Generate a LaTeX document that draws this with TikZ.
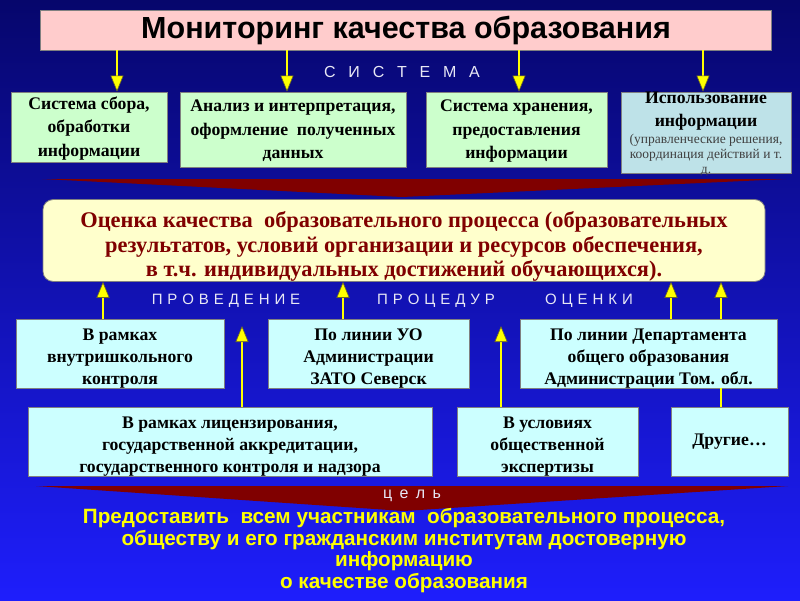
\documentclass[tikz,border=0pt]{standalone}
\usepackage{fontspec}
\setmainfont{Liberation Serif}
\setsansfont{Liberation Sans}
\usetikzlibrary{arrows.meta}
\definecolor{bgtop}{RGB}{6,6,108}
\definecolor{bgmid}{RGB}{18,18,196}
\definecolor{bgbottom}{RGB}{30,30,252}
\definecolor{wedgered}{RGB}{128,0,0}
\definecolor{titlepink}{RGB}{255,204,204}
\definecolor{boxgreen}{RGB}{204,255,204}
\definecolor{boxgrey}{RGB}{190,226,232}
\definecolor{boxcyan}{RGB}{204,255,255}
\definecolor{boxyellow}{RGB}{255,255,204}
\definecolor{labelgray}{RGB}{232,232,245}
\definecolor{arrowyellow}{RGB}{255,255,0}
\newcommand{\toppad}[1]{\rule{0pt}{#1em}}

\begin{document}
\begin{tikzpicture}[x=1pt,y=-1pt,
  box/.style={draw=gray,line width=0.8pt,inner sep=0pt,align=center,font=\bfseries\fontsize{17.7}{22}\selectfont},
  greenbox/.style={box,fill=boxgreen,font=\bfseries\fontsize{17.7}{23.5}\selectfont},
  cyanbox/.style={box,fill=boxcyan},
  spaced/.style={font=\sffamily\fontsize{15}{15}\selectfont,text=labelgray},
  yarrow/.style={draw=arrowyellow,line width=2.5pt,-{Triangle[width=13pt,length=16pt,fill=arrowyellow,color=olive!70!black,line width=0.6pt]}},
  yline/.style={draw=arrowyellow,line width=2.5pt}]

\useasboundingbox (0,0) rectangle (800,600);
\shade[top color=bgtop,middle color=bgmid,bottom color=bgbottom] (0,0) rectangle (800,600);

\fill[wedgered] (42,179) -- (786,179) -- (402,197) -- cycle;
\fill[wedgered] (36,486) -- (788,486) -- (404,511) -- cycle;

\node[draw=gray,fill=titlepink,minimum width=731,minimum height=40,inner sep=0pt,font=\sffamily\bfseries\fontsize{30.5}{32}\selectfont] (title) at (406,30) {Мониторинг качества образования};

\node[spaced,font=\sffamily\fontsize{16}{16}\selectfont] (sys) at (402,72) {\addfontfeature{LetterSpace=52}С И С Т Е М А};

\node[greenbox,minimum width=156,minimum height=70] (sys1) at (89,127) {\toppad{0.85}Система сбора,\\обработки\\информации};
\node[greenbox,minimum width=226,minimum height=75] (sys2) at (293,129.5) {\toppad{0.85}Анализ и интерпретация,\\оформление~ полученных\\данных};
\node[greenbox,minimum width=181,minimum height=75] (sys3) at (516.5,129.5) {\toppad{0.85}Система хранения,\\предоставления\\информации};
\node[box,fill=boxgrey,minimum width=170,minimum height=81] (sys4) at (706,132.5) {};
\node[align=center,inner sep=0pt,font=\bfseries\fontsize{17.7}{23}\selectfont] (use) at (706,111) {Использование\\информации};
\node[align=center,inner sep=0pt,anchor=north,text=black!75,font=\fontsize{13.5}{15}\selectfont] (usenote) at (706,133.5) {(управленческие решения,\\координация действий и т.\\д.};

\draw[yarrow] (title.south -| 117,0) -- (sys1.north -| 117,0);
\draw[yarrow] (title.south -| 287,0) -- (sys2.north -| 287,0);
\draw[yarrow] (title.south -| 519,0) -- (sys3.north -| 519,0);
\draw[yarrow] (title.south -| 703,0) -- (sys4.north -| 703,0);

\node[box,fill=boxyellow,rounded corners=10pt,minimum width=722,minimum height=81,text=wedgered,font=\bfseries\fontsize{22.4}{24.5}\selectfont] (eval) at (404,240.5) {\toppad{1.25}Оценка качества~ образовательного процесса (образовательных\\результатов, условий организации и ресурсов обеспечения,\\в т.ч. индивидуальных достижений обучающихся).};

\node[spaced] (held) at (226,301) {\addfontfeature{LetterSpace=5}П Р О В Е Д Е Н И Е};
\node[spaced] (proc) at (436,301) {\addfontfeature{LetterSpace=5}П Р О Ц Е Д У Р};
\node[spaced] (est) at (589,301) {\addfontfeature{LetterSpace=5}О Ц Е Н К И};

\node[cyanbox,minimum width=208,minimum height=69] (lev1) at (120,353.5) {\toppad{1.2}В рамках\\внутришкольного\\контроля};
\node[cyanbox,minimum width=201,minimum height=69] (lev2) at (368.5,353.5) {\toppad{1.2}По линии УО\\Администрации\\ЗАТО Северск};
\node[cyanbox,minimum width=257,minimum height=69] (lev3) at (648.5,353.5) {\toppad{1.2}По линии Департамента\\общего образования\\Администрации Том. обл.};

\node[cyanbox,minimum width=404,minimum height=69] (ext1) at (230,441.5) {\toppad{1.2}В рамках лицензирования,\\государственной аккредитации,\\государственного контроля и надзора};
\node[cyanbox,minimum width=181,minimum height=69] (ext2) at (547.5,441.5) {\toppad{1.2}В условиях\\общественной\\экспертизы};
\node[cyanbox,minimum width=117,minimum height=69] (ext3) at (729.5,441.5) {Другие…};

\coordinate (tip1) at (242,326);
\coordinate (tip2) at (501,326);

\draw[yarrow] (lev1.north -| 103,0) -- (eval.south -| 103,0);
\draw[yarrow] (lev2.north -| 343,0) -- (eval.south -| 343,0);
\draw[yarrow] (lev3.north -| 671,0) -- (eval.south -| 671,0);
\draw[yline] (ext3.north -| 721,0) -- (lev3.south -| 721,0);
\draw[yarrow] (lev3.north -| 721,0) -- (eval.south -| 721,0);
\draw[yarrow] (ext1.north -| tip1) -- (tip1);
\draw[yarrow] (ext2.north -| tip2) -- (tip2);

\node[spaced,font=\sffamily\fontsize{16}{16}\selectfont] (goal) at (412,496) {\addfontfeature{LetterSpace=18}ц е л ь};

\node[align=center,inner sep=0pt,text=arrowyellow,font=\sffamily\bfseries\fontsize{20.7}{21.5}\selectfont] (aim) at (404,550.5) {Предоставить~ всем участникам~ образовательного процесса,\\обществу и его гражданским институтам достоверную\\информацию\\о качестве образования};

\end{tikzpicture}
\end{document}
